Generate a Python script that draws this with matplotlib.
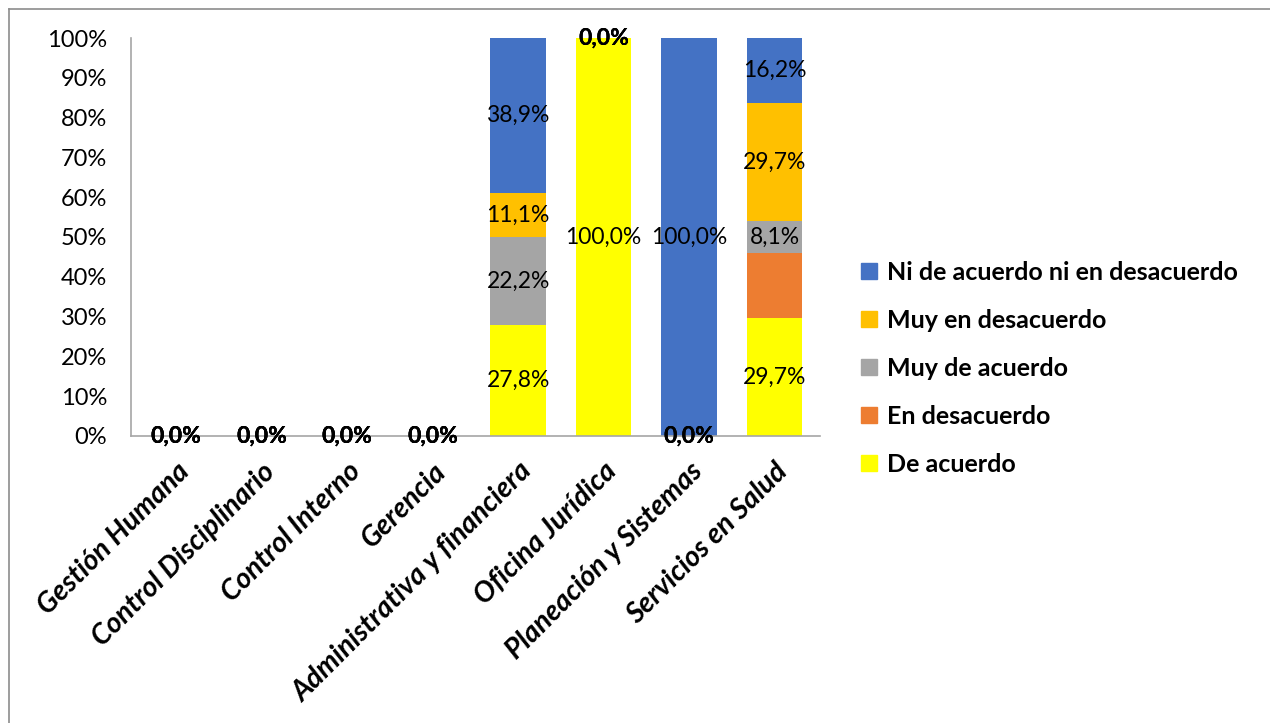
import numpy as np
import matplotlib.pyplot as plt
from matplotlib.lines import Line2D

# ============================
# Data
# ============================
categories = ['Gestión Humana', 'Control Disciplinario', 'Control Interno', 'Gerencia',
              'Administrativa y financiera', 'Oficina Jurídica', 'Planeación y Sistemas',
              'Servicios en Salud']
de_acuerdo = [0.0, 0.0, 0.0, 0.0, 27.8, 100.0, 0.0, 29.7]
en_desacuerdo = [0.0, 0.0, 0.0, 0.0, 0.0, 0.0, 0.0, 16.2]
muy_de_acuerdo = [0.0, 0.0, 0.0, 0.0, 22.2, 0.0, 0.0, 8.1]
muy_en_desacuerdo = [0.0, 0.0, 0.0, 0.0, 11.1, 0.0, 0.0, 29.7]
ni_ni = [0.0, 0.0, 0.0, 0.0, 38.9, 0.0, 100.0, 16.2]

series_names = ['De acuerdo', 'En desacuerdo', 'Muy de acuerdo',
                'Muy en desacuerdo', 'Ni de acuerdo ni en desacuerdo']
series_values = [de_acuerdo, en_desacuerdo, muy_de_acuerdo, muy_en_desacuerdo, ni_ni]
series_colors = ['#FFFF00', '#ED7D31', '#A5A5A5', '#FFC000', '#4472C4']
series_labeled = [True, False, True, True, True]

plt.rcParams['font.family'] = ['Lato', 'DejaVu Sans']

fig = plt.figure(figsize=(12.7, 7.23), dpi=100)
ax = fig.add_axes([0.1031, 0.397, 0.5425, 0.5504])

x = np.arange(len(categories))
bottom = np.zeros(len(categories))
handles = []
for name, vals, col, lab in zip(series_names, series_values, series_colors, series_labeled):
    vals = np.array(vals)
    ax.bar(x, vals, 0.65, bottom=bottom, color=col, edgecolor='none')
    if lab:
        for xi, v, b in zip(x, vals, bottom):
            # stacked zero labels look heavier in the original
            ax.text(xi, b + v / 2, f'{v:.1f}%'.replace('.', ','), ha='center',
                    va='center', fontsize=16.5, color='black',
                    fontweight='bold' if v == 0 else 'normal')
    bottom += vals
    handles.append(Line2D([], [], marker='s', linestyle='none', color=col,
                          markersize=12, label=name))

ax.set_xlim(-0.53, len(categories) - 0.47)
ax.set_ylim(0, 100)
ax.set_yticks(np.arange(0, 101, 10))
ax.set_yticklabels([f'{t}%' for t in range(0, 101, 10)], fontsize=17)
ax.set_xticks(x)
ax.set_xticklabels(categories, rotation=45, ha='right', rotation_mode='anchor',
                   fontsize=20.5, fontweight='bold', fontstyle='italic')
ax.tick_params(axis='both', length=0)
ax.tick_params(axis='x', pad=16)
ax.tick_params(axis='y', pad=17)
for s in ['top', 'right']:
    ax.spines[s].set_visible(False)
for s in ['left', 'bottom']:
    ax.spines[s].set_color('#A6A6A6')
    ax.spines[s].set_linewidth(1.2)

fig.legend(handles=handles[::-1], loc='center left', bbox_to_anchor=(0.658, 0.491),
           frameon=False, prop={'size': 18, 'weight': 'bold'},
           labelspacing=1.0, handletextpad=0.25, handlelength=0.9)

# figure border (top and left edges)
fig.add_artist(Line2D([0.007, 1.0], [0.988, 0.988], color='#8C8C8C', lw=1.2,
                      transform=fig.transFigure))
fig.add_artist(Line2D([0.007, 0.007], [0.0, 0.988], color='#8C8C8C', lw=1.2,
                      transform=fig.transFigure))

fig.savefig('out.png', dpi=100)
